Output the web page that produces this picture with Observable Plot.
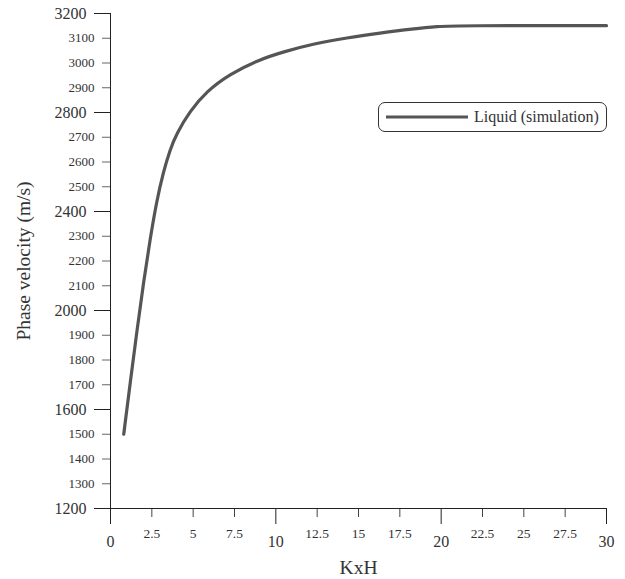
<!DOCTYPE html>
<html>
<head>
<meta charset="utf-8">
<script src="https://cdn.jsdelivr.net/npm/d3@7"></script>
<script src="https://cdn.jsdelivr.net/npm/@observablehq/plot@0.6"></script>
<style>
  body { margin: 0; background: #fff; }
  #wrap { position: relative; width: 625px; height: 579px; font-family: "Liberation Serif", "Times New Roman", serif; }
  #legend { position: absolute; left: 378px; top: 102px; width: 229px; height: 30px; box-sizing: border-box;
    border: 1px solid #333; border-radius: 7px; display: flex; align-items: center; font-size: 16px; color: #333; white-space: nowrap; }
  #legend svg { margin-left: 7px; margin-right: 6px; }
</style>
</head>
<body>
<div id="wrap"></div>
<script>
// Data
const kxh = [0.8, 1.2, 1.6, 2.0, 2.4, 2.8, 3.2, 3.6, 4.0, 4.8, 5.8, 7.2, 9.0, 10.5, 12.3, 14.3, 16.3, 18.3, 19.8, 21.0, 30];
const velocity = [1500, 1712, 1918, 2115, 2290, 2445, 2560, 2650, 2715, 2805, 2885, 2955, 3014, 3046, 3078, 3102, 3121, 3138, 3148, 3151, 3151];
const seriesName = "Liquid (simulation)";

const yMajor = [1200, 1600, 2000, 2400, 2800, 3200];
const yMinor = [1300, 1400, 1500, 1700, 1800, 1900, 2100, 2200, 2300, 2500, 2600, 2700, 2900, 3000, 3100];
const xMajor = [0, 10, 20, 30];
const xMinor = [2.5, 5, 7.5, 12.5, 15, 17.5, 22.5, 25, 27.5];

const yTitle = "Phase velocity (m/s)";
const xTitle = "KxH";

const data = kxh.map((k, i) => ({k, v: velocity[i]}));
const fmt = d => String(d);

const chart = Plot.plot({
  width: 625,
  height: 579,
  marginLeft: 110,
  marginRight: 19,
  marginTop: 13,
  marginBottom: 71,
  style: {fontFamily: "'Liberation Serif', 'Times New Roman', serif", color: "#333", background: "#fff"},
  x: {domain: [0, 30]},
  y: {domain: [1200, 3200]},
  marks: [
    Plot.axisY(yMinor, {tickSize: 8, tickPadding: 8, fontSize: 13, stroke: "#666", tickFormat: fmt, label: null}),
    Plot.axisY(yMajor, {tickSize: 16, tickPadding: 8, fontSize: 16, stroke: "#222", tickFormat: fmt, label: null}),
    Plot.axisX(xMinor, {tickSize: 9, tickPadding: 11, fontSize: 13.5, stroke: "#444", tickFormat: fmt, label: null}),
    Plot.axisX(xMajor, {tickSize: 16, tickPadding: 11, fontSize: 16, stroke: "#222", tickFormat: fmt, label: null}),
    Plot.ruleY([1200], {stroke: "#222"}),
    Plot.ruleX([0], {stroke: "#222"}),
    Plot.line(data, {x: "k", y: "v", stroke: "#555", strokeWidth: 3.2, curve: "basis"}),
    Plot.text([yTitle], {frameAnchor: "left", textAnchor: "middle", lineAnchor: "middle", dx: -87, rotate: -90, fontSize: 19.5, fill: "#333"}),
    Plot.text([xTitle], {frameAnchor: "bottom", textAnchor: "middle", lineAnchor: "middle", dy: 59, fontSize: 19.5, fill: "#333"})
  ]
});

const wrap = document.getElementById("wrap");
wrap.appendChild(chart);
const legend = document.createElement("div");
legend.id = "legend";
legend.innerHTML = `<svg width="82" height="6"><line x1="0" x2="82" y1="3" y2="3" stroke="#555" stroke-width="3.2"/></svg><span>${seriesName}</span>`;
wrap.appendChild(legend);
</script>
</body>
</html>
